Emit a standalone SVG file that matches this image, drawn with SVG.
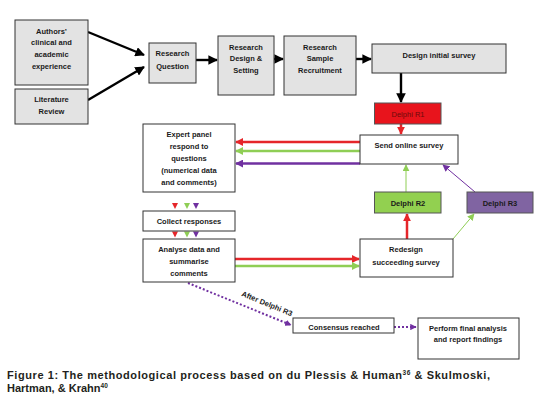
<svg xmlns="http://www.w3.org/2000/svg" width="547" height="406" viewBox="0 0 547 406">
<style>
text{font-family:"Liberation Sans",Arial,sans-serif;font-weight:bold;font-size:7.5px;fill:#1a1a1a;text-anchor:middle}
.g{fill:#e3e3e3;stroke:#333;stroke-width:1}
.w{fill:#fff;stroke:#333;stroke-width:1}
.bk{stroke:#000;stroke-width:2.4;fill:none}
.r{stroke:#e5262a;stroke-width:2.5;fill:none}
.gr{stroke:#8fce55;stroke-width:2.5;fill:none}
.p{stroke:#7030a0;stroke-width:2.5;fill:none}
.cap{font-size:11px;text-anchor:start;fill:#231f20}
</style>
<defs>
<marker id="ak" viewBox="0 0 10 10" refX="9" refY="5" markerWidth="4" markerHeight="4" orient="auto" markerUnits="strokeWidth"><path d="M0,0L10,5L0,10z" fill="#000"/></marker>
<marker id="ar" viewBox="0 0 10 10" refX="9" refY="5" markerWidth="3.2" markerHeight="3.2" orient="auto" markerUnits="strokeWidth"><path d="M0,0L10,5L0,10z" fill="#e5262a"/></marker>
<marker id="ag" viewBox="0 0 10 10" refX="9" refY="5" markerWidth="3.2" markerHeight="3.2" orient="auto" markerUnits="strokeWidth"><path d="M0,0L10,5L0,10z" fill="#8fce55"/></marker>
<marker id="ap" viewBox="0 0 10 10" refX="9" refY="5" markerWidth="3.2" markerHeight="3.2" orient="auto" markerUnits="strokeWidth"><path d="M0,0L10,5L0,10z" fill="#7030a0"/></marker>
<marker id="agt" viewBox="0 0 10 10" refX="9" refY="5" markerWidth="7" markerHeight="7" orient="auto" markerUnits="strokeWidth"><path d="M0,0L10,5L0,10z" fill="#8fce55"/></marker>
<marker id="apt" viewBox="0 0 10 10" refX="9" refY="5" markerWidth="7" markerHeight="7" orient="auto" markerUnits="strokeWidth"><path d="M0,0L10,5L0,10z" fill="#7030a0"/></marker>
</defs>
<rect width="547" height="406" fill="#fff"/>

<g id="connectors">
<path class="bk" d="M88,32L144,55" marker-end="url(#ak)"/>
<path class="bk" d="M88,100L144,67" marker-end="url(#ak)"/>
<path class="bk" d="M196,60L217,60" marker-end="url(#ak)"/>
<path class="bk" d="M274,59L283,59" marker-end="url(#ak)"/>
<path class="bk" d="M356,59L371,59" marker-end="url(#ak)"/>
<path class="bk" d="M401,73L401,102" marker-end="url(#ak)"/>
<path class="r" d="M401,124L401,134" marker-end="url(#ar)"/>
<path class="r" d="M360,142L236,142" marker-end="url(#ar)"/>
<path class="gr" d="M360,151L236,151" marker-end="url(#ag)"/>
<path class="p" d="M360,163.5L236,163.5" marker-end="url(#ap)"/>
<path d="M406,192L406,165" stroke="#8fce55" stroke-width="1" fill="none" marker-end="url(#agt)"/>
<path d="M475,192L443,165" stroke="#7030a0" stroke-width="1" fill="none" marker-end="url(#apt)"/>
<path class="r" d="M407,239L407,214" marker-end="url(#ar)"/>
<path d="M453,239L474,214" stroke="#8fce55" stroke-width="1" fill="none" marker-end="url(#agt)"/>
<path class="r" d="M235,259L359,259" marker-end="url(#ar)"/>
<path class="gr" d="M235,266L359,266" marker-end="url(#ag)"/>
<g>
<path d="M172,203L178,203L175,209z" fill="#e5262a"/>
<path d="M184,203L190,203L187,209z" fill="#8fce55"/>
<path d="M193,203L199,203L196,209z" fill="#7030a0"/>
<path d="M172,231.5L178,231.5L175,237.5z" fill="#e5262a"/>
<path d="M184,231.5L190,231.5L187,237.5z" fill="#8fce55"/>
<path d="M193,231.5L199,231.5L196,237.5z" fill="#7030a0"/>
</g>
<path d="M188,283L291,325" stroke="#7030a0" stroke-width="2" stroke-dasharray="2,2" fill="none" marker-end="url(#ap)"/>
<text transform="translate(266,306) rotate(22.5)" font-size="7.5">After Delphi R3</text>
<path d="M394,327L416,327" stroke="#7030a0" stroke-width="2" stroke-dasharray="2,2" fill="none" marker-end="url(#ap)"/>
</g>

<g id="authors"><rect class="g" x="15" y="20" width="73" height="65"/>
<text x="51.5" y="33.5">Authors’</text><text x="51.5" y="45">clinical and</text><text x="51.5" y="57">academic</text><text x="51.5" y="68.5">experience</text></g>
<g id="literature"><rect class="g" x="15" y="89" width="73" height="35"/>
<text x="51.5" y="102">Literature</text><text x="51.5" y="113.5">Review</text></g>
<g id="question"><rect class="g" x="149" y="43" width="47" height="40"/>
<text x="172.5" y="56">Research</text><text x="172.5" y="68.5">Question</text></g>
<g id="design"><rect class="g" x="218" y="36" width="56" height="59"/>
<text x="246" y="49.5">Research</text><text x="246" y="61">Design &amp;</text><text x="246" y="72.5">Setting</text></g>
<g id="sample"><rect class="g" x="284" y="36" width="72" height="59"/>
<text x="320" y="49.5">Research</text><text x="320" y="61">Sample</text><text x="320" y="72.5">Recruitment</text></g>
<g id="initial"><rect class="g" x="372" y="44" width="134" height="29"/>
<text x="439" y="57.5">Design initial survey</text></g>
<g id="r1"><rect x="374.5" y="103" width="66.5" height="21" fill="#e8141c" stroke="#555" stroke-width="1"/>
<text x="408" y="116.5" style="font-weight:normal;fill:#6e0a0a">Delphi R1</text></g>
<g id="send"><rect class="w" x="360" y="135" width="98" height="29"/>
<text x="409" y="147.5">Send online survey</text></g>
<g id="r2"><rect x="374.5" y="192" width="66.5" height="21" fill="#92d050" stroke="#555" stroke-width="1"/>
<text x="408" y="205.5">Delphi R2</text></g>
<g id="r3"><rect x="467" y="192" width="66" height="21" fill="#8064a2" stroke="#555" stroke-width="1"/>
<text x="500" y="205.5">Delphi R3</text></g>
<g id="redesign"><rect class="w" x="360" y="239" width="93" height="38"/>
<text x="406" y="251.5">Redesign</text><text x="406" y="264.5">succeeding survey</text></g>
<g id="expert"><rect class="w" x="143" y="124" width="92" height="68"/>
<text x="189" y="136.5">Expert panel</text><text x="189" y="149">respond to</text><text x="189" y="160.5">questions</text><text x="189" y="172.5">(numerical data</text><text x="189" y="184.5">and comments)</text></g>
<g id="collect"><rect class="w" x="143" y="211" width="92" height="20"/>
<text x="189" y="223.5">Collect responses</text></g>
<g id="analyse"><rect class="w" x="143" y="239" width="92" height="43"/>
<text x="189" y="251.5">Analyse data and</text><text x="189" y="264">summarise</text><text x="189" y="275.5">comments</text></g>
<g id="consensus"><rect class="w" x="293" y="318" width="101" height="15"/>
<text x="344" y="329.5">Consensus reached</text></g>
<g id="final"><rect class="w" x="418" y="318" width="101" height="41"/>
<text x="468" y="330.5">Perform final analysis</text><text x="468" y="342">and report findings</text></g>

<g id="caption">
<text class="cap" x="7" y="379" textLength="483" lengthAdjust="spacing">Figure 1: The methodological process based on du Plessis &amp; Human<tspan font-size="6.5" dy="-4">36</tspan><tspan dy="4"> &amp; Skulmoski,</tspan></text>
<text class="cap" x="7" y="391.5">Hartman, &amp; Krahn<tspan font-size="6.5" dy="-4">40</tspan></text>
</g>
</svg>
